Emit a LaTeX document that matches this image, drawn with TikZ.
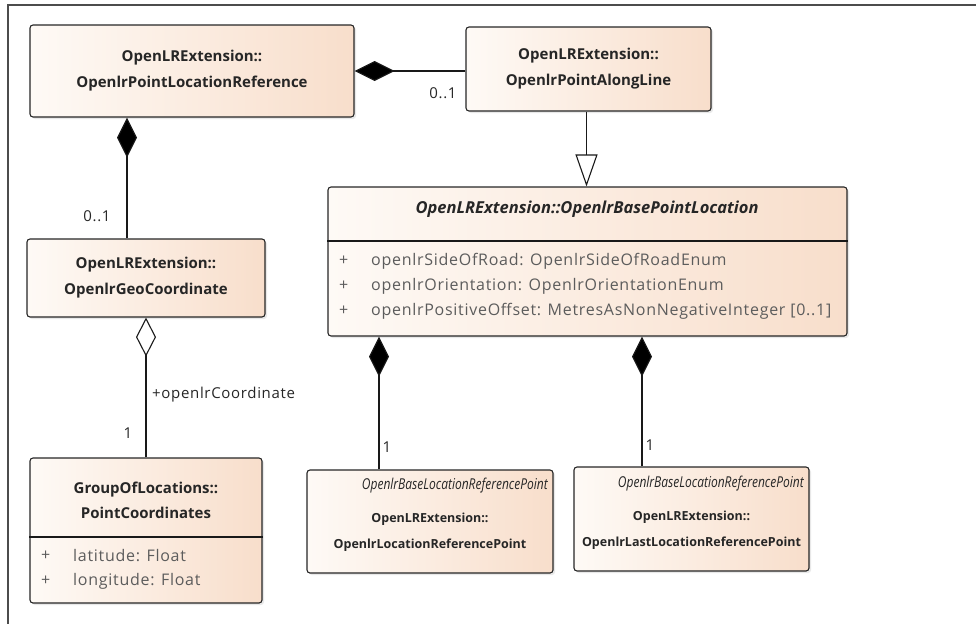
\documentclass[tikz,border=0pt]{standalone}
\usepackage{fontspec}
\setmainfont{Open Sans}
\newfontfamily\stereofont{Open Sans}[FakeStretch=0.8]
\newfontfamily\attrfont{Open Sans}[LetterSpace=4.5]
\usepackage{xcolor}
\usetikzlibrary{arrows.meta}
\usetikzlibrary{calc}
\usetikzlibrary{shadows}

\definecolor{boxL}{HTML}{FEFAF6}
\definecolor{boxR}{HTML}{F8DECB}
\definecolor{txtC}{HTML}{262626}
\definecolor{attrC}{HTML}{5C5C5C}

\begin{document}
\begin{tikzpicture}[x=1pt, y=-1pt]
        % ================= 样式定义 =================
        \tikzset{
            % 类框
            cls/.style={draw=black!85, line width=1.1pt, rounded corners=3pt, left color=boxL, right color=boxR,
                drop shadow={opacity=0.18, shadow xshift=2pt, shadow yshift=-2pt},
                inner sep=0pt, text=txtC, align=center, font=\fontsize{15}{26}\selectfont\bfseries},
            % 框内文字
            title/.style={inner sep=0pt, text=txtC, align=center, font=\fontsize{15}{25}\selectfont\bfseries},
            attrtxt/.style={inner sep=0pt, anchor=west, text=attrC, font=\attrfont\fontsize{16}{18}\selectfont},
            stereo/.style={inner sep=0pt, anchor=east, text=txtC, font=\stereofont\fontsize{15}{16}\selectfont\itshape},
            % 多重性标注
            mult/.style={inner sep=0pt, text=txtC, font=\attrfont\fontsize{15}{18}\selectfont},
            % 连线
            link/.style={line width=1.1pt, black!90},
            compo/.style={link, -{Diamond[length=40pt, width=20pt, fill=black]}},
            aggr/.style={link, -{Diamond[open, length=39pt, width=20pt, fill=white]}},
            gener/.style={link, -{Triangle[open, length=32pt, width=22pt, fill=white]}}
        }

        \useasboundingbox (0,0) rectangle (976,624);

        % ================= 外框 (只见上边和左边) =================
        \draw[line width=1.4pt, black!70] (976,5) -- (8,5) -- (8,624);

        % ================= 类 =================
        \node[cls, minimum width=324pt, minimum height=92pt] (plr) at (192,71)
            {OpenLRExtension::\\OpenlrPointLocationReference};
        \node[cls, minimum width=245pt, minimum height=84pt] (pal) at (588.5,69)
            {OpenLRExtension::\\OpenlrPointAlongLine};
        \node[cls, minimum width=238pt, minimum height=78pt] (geo) at (146,278)
            {OpenLRExtension::\\OpenlrGeoCoordinate};

        % 基类 (抽象, 带属性)
        \node[cls, minimum width=519pt, minimum height=149pt] (bpl) at (587.5,261.5) {};
        \node[title, font=\fontsize{16.5}{18}\selectfont\bfseries\itshape] (bplT) at (587,209)
            {OpenLRExtension::OpenlrBasePointLocation};
        \draw[link] (bpl.west |- 0,241) -- (bpl.east |- 0,241);
        \node[attrtxt] (bplP1) at (339,261) {+};
        \node[attrtxt] (bplP2) at (339,286) {+};
        \node[attrtxt] (bplP3) at (339,311) {+};
        \node[attrtxt] (bplA1) at (371,261) {openlrSideOfRoad: OpenlrSideOfRoadEnum};
        \node[attrtxt] (bplA2) at (371,286) {openlrOrientation: OpenlrOrientationEnum};
        \node[attrtxt] (bplA3) at (371,311) {openlrPositiveOffset: MetresAsNonNegativeInteger [0..1]};

        % 坐标类
        \node[cls, minimum width=232pt, minimum height=145pt] (pco) at (146,530.5) {};
        \node[title] (pcoT) at (146,500) {GroupOfLocations::\\PointCoordinates};
        \draw[link] (pco.west |- 0,537) -- (pco.east |- 0,537);
        \node[attrtxt] (pcoP1) at (41,556) {+};
        \node[attrtxt] (pcoP2) at (41,581) {+};
        \node[attrtxt] (pcoA1) at (73,556) {latitude: Float};
        \node[attrtxt] (pcoA2) at (73,581) {longitude: Float};

        % 两个参考点
        \node[cls, minimum width=246pt, minimum height=103pt] (lrp) at (430,521.5) {};
        \node[stereo] (lrpS) at (548,486) {OpenlrBaseLocationReferencePoint};
        \node[title, font=\fontsize{12.5}{26}\selectfont\bfseries] (lrpT) at (430,532) {OpenLRExtension::\\OpenlrLocationReferencePoint};
        \node[cls, minimum width=235pt, minimum height=104pt] (llr) at (691.5,519) {};
        \node[stereo] (llrS) at (804,484) {OpenlrBaseLocationReferencePoint};
        \node[title, font=\fontsize{12.5}{26}\selectfont\bfseries] (llrT) at (691.5,530) {OpenLRExtension::\\OpenlrLastLocationReferencePoint};

        % ================= 连线 =================
        \draw[compo] (plr.east -| pal.west) -- (plr.east);
        \draw[compo] ([xshift=-19pt]geo.north) -- ([xshift=-19pt]geo.north |- plr.south);
        \draw[gener] ([xshift=-2pt]pal.south) -- ([xshift=-2pt]pal.south |- bpl.north);
        \draw[aggr] (pco.north) -- (geo.south);
        \draw[compo] ([xshift=-51pt]lrp.north) -- ([xshift=-51pt]lrp.north |- bpl.south);
        \draw[compo] ([xshift=-49.5pt]llr.north) -- ([xshift=-49.5pt]llr.north |- bpl.south);

        % 多重性 / 角色名
        \node[mult] (m1) at (443,93) {0..1};
        \node[mult] (m2) at (97,216) {0..1};
        \node[mult] (m3) at (128,433) {1};
        \node[mult, anchor=west] (r1) at (152,395) {+openlrCoordinate};
        \node[mult] (m4) at (387,447) {1};
        \node[mult] (m5) at (650,445) {1};
\end{tikzpicture}
\end{document}
